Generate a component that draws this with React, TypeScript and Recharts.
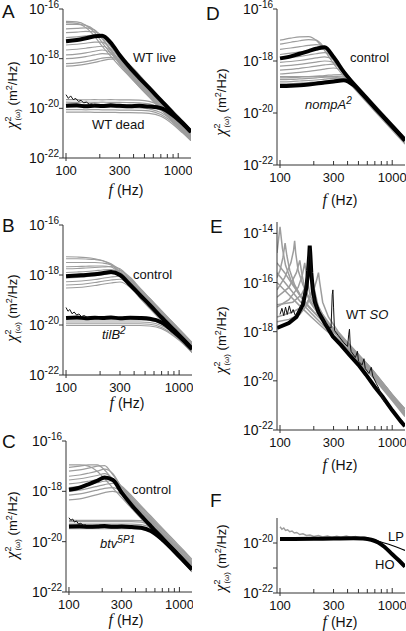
import React from 'react';
import { LineChart, Line, XAxis, YAxis } from 'recharts';

const SANS = '"Liberation Sans", Arial, sans-serif';
const SERIF = '"Liberation Serif", "Times New Roman", serif';
const GRAY = '#9d9d9d';
const AXIS = '#333';

// frequency grid (Hz) shared by panels A-D; values below are log10 of x^2 (m^2/Hz)
const F_GRID = [100, 125, 150, 180, 210, 250, 300, 370, 450, 550, 700, 900, 1100, 1300];
const X_TICKS = [100, 200, 300, 400, 500, 600, 700, 800, 900, 1000];
const X_DOMAIN = [94, 1300];

// A: WT live / WT dead
const aLiveGray = [
  [-16.5, -16.52, -16.65, -16.95, -17.35, -17.78, -18.19, -18.62, -19.03, -19.44, -19.94, -20.45, -20.86, -21.2],
  [-16.55, -16.58, -16.75, -17.1, -17.5, -17.9, -18.3, -18.73, -19.13, -19.54, -20.04, -20.55, -20.96, -21.3],
  [-16.62, -16.62, -16.66, -16.85, -17.2, -17.65, -18.08, -18.52, -18.93, -19.34, -19.84, -20.35, -20.76, -21.1],
  [-16.8, -16.78, -16.76, -16.85, -17.15, -17.65, -18.12, -18.57, -18.98, -19.39, -19.89, -20.4, -20.81, -21.15],
  [-16.95, -16.93, -16.9, -16.92, -17.08, -17.5, -17.97, -18.42, -18.83, -19.24, -19.74, -20.25, -20.66, -21.0],
  [-17.15, -17.12, -17.08, -17.05, -17.12, -17.5, -18.0, -18.47, -18.88, -19.29, -19.79, -20.3, -20.71, -21.05],
  [-17.45, -17.42, -17.38, -17.33, -17.33, -17.6, -18.15, -18.65, -19.08, -19.49, -19.99, -20.5, -20.91, -21.25],
  [-17.65, -17.62, -17.58, -17.53, -17.5, -17.68, -18.22, -18.7, -19.13, -19.54, -20.04, -20.55, -20.96, -21.3],
  [-17.85, -17.82, -17.77, -17.7, -17.65, -17.75, -18.15, -18.6, -19.03, -19.44, -19.94, -20.45, -20.86, -21.2],
  [-18.0, -17.97, -17.92, -17.85, -17.8, -17.82, -18.08, -18.5, -18.93, -19.34, -19.84, -20.35, -20.76, -21.1],
  [-18.2, -18.17, -18.12, -18.05, -17.98, -17.95, -18.05, -18.38, -18.78, -19.19, -19.69, -20.2, -20.61, -20.95],
  [-18.3, -18.27, -18.22, -18.15, -18.08, -18.02, -18.02, -18.25, -18.65, -19.09, -19.59, -20.1, -20.51, -20.85],
];
const aDeadGray = [
  [-19.65, -19.65, -19.66, -19.65, -19.66, -19.65, -19.66, -19.66, -19.67, -19.72, -19.9, -20.3, -20.68, -21.0],
  [-19.75, -19.76, -19.75, -19.76, -19.75, -19.76, -19.76, -19.77, -19.78, -19.82, -20.0, -20.38, -20.75, -21.08],
  [-19.85, -19.85, -19.86, -19.85, -19.86, -19.86, -19.87, -19.87, -19.88, -19.92, -20.08, -20.45, -20.82, -21.15],
  [-19.95, -19.95, -19.95, -19.96, -19.96, -19.96, -19.97, -19.97, -19.98, -20.02, -20.17, -20.52, -20.88, -21.2],
  [-20.05, -20.05, -20.06, -20.05, -20.06, -20.06, -20.07, -20.07, -20.08, -20.1, -20.25, -20.58, -20.93, -21.25],
  [-20.15, -20.15, -20.15, -20.16, -20.16, -20.16, -20.17, -20.17, -20.18, -20.2, -20.32, -20.65, -21.0, -21.3],
];
const aLive = [-17.3, -17.25, -17.18, -17.1, -17.08, -17.35, -17.85, -18.35, -18.77, -19.18, -19.68, -20.2, -20.6, -20.95];
const aDead = [-19.9, -19.88, -19.92, -19.89, -19.91, -19.88, -19.9, -19.92, -19.9, -19.93, -19.99, -20.28, -20.62, -20.95];
const aDeadNoiseF = [100, 105, 110, 116, 122, 129, 136, 144, 152, 161, 170, 180];
const aDeadNoise = [-19.45, -19.6, -19.5, -19.65, -19.6, -19.72, -19.68, -19.78, -19.75, -19.83, -19.82, -19.88];

// B: control / tilB2
const bCtrlGray = [
  [-17.27, -17.28, -17.3, -17.35, -17.42, -17.55, -17.8, -18.15, -18.53, -18.94, -19.44, -19.95, -20.36, -20.7],
  [-17.35, -17.35, -17.36, -17.38, -17.43, -17.58, -17.88, -18.25, -18.63, -19.04, -19.54, -20.05, -20.46, -20.8],
  [-17.5, -17.5, -17.5, -17.5, -17.52, -17.6, -17.9, -18.3, -18.68, -19.09, -19.59, -20.1, -20.51, -20.85],
  [-17.67, -17.66, -17.65, -17.64, -17.64, -17.68, -17.93, -18.34, -18.73, -19.14, -19.64, -20.15, -20.56, -20.9],
  [-17.75, -17.74, -17.72, -17.7, -17.68, -17.66, -17.75, -18.17, -18.58, -18.99, -19.49, -20.0, -20.41, -20.75],
  [-17.9, -17.88, -17.86, -17.83, -17.8, -17.78, -17.88, -18.27, -18.68, -19.09, -19.59, -20.1, -20.51, -20.85],
  [-18.0, -17.98, -17.95, -17.92, -17.88, -17.84, -17.82, -18.1, -18.53, -18.94, -19.44, -19.95, -20.36, -20.7],
  [-18.12, -18.1, -18.07, -18.03, -17.99, -17.95, -17.93, -18.2, -18.62, -19.04, -19.54, -20.05, -20.46, -20.8],
  [-18.27, -18.25, -18.22, -18.18, -18.13, -18.08, -18.05, -18.3, -18.72, -19.14, -19.64, -20.15, -20.56, -20.9],
  [-18.4, -18.38, -18.35, -18.3, -18.25, -18.2, -18.17, -18.4, -18.82, -19.24, -19.74, -20.25, -20.66, -21.0],
  [-18.52, -18.5, -18.47, -18.42, -18.37, -18.32, -18.28, -18.5, -18.92, -19.34, -19.84, -20.35, -20.76, -21.1],
];
const bMutGray = [
  [-19.8, -19.8, -19.8, -19.8, -19.8, -19.8, -19.8, -19.8, -19.8, -19.82, -19.95, -20.25, -20.57, -20.9],
  [-19.88, -19.88, -19.88, -19.88, -19.88, -19.88, -19.88, -19.88, -19.88, -19.9, -20.03, -20.33, -20.66, -21.0],
  [-19.95, -19.95, -19.95, -19.95, -19.95, -19.95, -19.95, -19.95, -19.95, -19.97, -20.1, -20.4, -20.72, -21.05],
  [-20.02, -20.02, -20.02, -20.02, -20.02, -20.02, -20.02, -20.02, -20.02, -20.04, -20.15, -20.45, -20.77, -21.1],
  [-19.7, -19.7, -19.7, -19.7, -19.7, -19.7, -19.7, -19.7, -19.7, -19.72, -19.85, -20.15, -20.47, -20.8],
];
const bCtrl = [-18.05, -18.02, -18.0, -17.97, -17.93, -17.88, -18.0, -18.4, -18.8, -19.2, -19.7, -20.2, -20.6, -20.95];
const bMut = [-19.72, -19.7, -19.73, -19.71, -19.72, -19.7, -19.73, -19.71, -19.72, -19.75, -19.9, -20.28, -20.63, -20.97];
const bMutNoiseF = [100, 104, 108, 113, 118, 124, 130, 137, 145, 154, 164];
const bMutNoise = [-19.3, -19.45, -19.38, -19.55, -19.48, -19.6, -19.56, -19.66, -19.62, -19.7, -19.68];

// C: control / btv5P1
const cCtrlGray = [
  [-16.95, -16.95, -17.0, -17.2, -17.5, -17.87, -18.25, -18.68, -19.08, -19.48, -19.96, -20.46, -20.86, -21.2],
  [-17.05, -17.0, -16.95, -16.95, -17.15, -17.55, -17.95, -18.38, -18.78, -19.18, -19.66, -20.16, -20.56, -20.9],
  [-17.2, -17.15, -17.08, -17.0, -16.98, -17.35, -17.82, -18.27, -18.68, -19.08, -19.56, -20.06, -20.46, -20.8],
  [-17.4, -17.35, -17.28, -17.2, -17.12, -17.3, -17.85, -18.32, -18.73, -19.13, -19.61, -20.11, -20.51, -20.85],
  [-17.55, -17.5, -17.44, -17.37, -17.3, -17.5, -17.95, -18.42, -18.83, -19.23, -19.71, -20.21, -20.61, -20.95],
  [-17.7, -17.66, -17.6, -17.53, -17.47, -17.6, -18.02, -18.48, -18.88, -19.28, -19.76, -20.26, -20.66, -21.0],
  [-17.85, -17.8, -17.74, -17.66, -17.6, -17.58, -17.8, -18.18, -18.58, -18.98, -19.46, -19.96, -20.36, -20.7],
  [-18.0, -17.95, -17.88, -17.8, -17.73, -17.68, -17.85, -18.23, -18.63, -19.03, -19.51, -20.01, -20.41, -20.75],
  [-18.15, -18.1, -18.03, -17.95, -17.88, -17.85, -18.0, -18.38, -18.78, -19.18, -19.66, -20.16, -20.56, -20.9],
  [-18.34, -18.3, -18.22, -18.13, -18.05, -18.0, -18.12, -18.52, -18.93, -19.33, -19.81, -20.31, -20.71, -21.05],
];
const cMutGray = [
  [-19.2, -19.2, -19.2, -19.2, -19.2, -19.2, -19.2, -19.2, -19.22, -19.38, -19.8, -20.27, -20.66, -21.0],
  [-19.3, -19.3, -19.3, -19.3, -19.3, -19.3, -19.3, -19.3, -19.32, -19.45, -19.85, -20.32, -20.71, -21.05],
  [-19.38, -19.38, -19.38, -19.38, -19.38, -19.38, -19.38, -19.38, -19.4, -19.52, -19.92, -20.41, -20.81, -21.15],
  [-19.15, -19.15, -19.15, -19.15, -19.15, -19.15, -19.15, -19.15, -19.16, -19.25, -19.68, -20.17, -20.56, -20.9],
  [-19.48, -19.48, -19.48, -19.48, -19.48, -19.48, -19.48, -19.48, -19.5, -19.6, -19.98, -20.46, -20.86, -21.2],
];
const cCtrl = [-17.94, -17.85, -17.72, -17.58, -17.45, -17.55, -18.05, -18.55, -18.97, -19.38, -19.86, -20.36, -20.76, -21.1];
const cMut = [-19.4, -19.39, -19.41, -19.4, -19.38, -19.41, -19.4, -19.42, -19.45, -19.58, -19.92, -20.38, -20.77, -21.1];
const cMutNoiseF = [100, 104, 108, 112, 117, 122, 128, 135, 142];
const cMutNoise = [-19.05, -19.15, -19.1, -19.22, -19.18, -19.3, -19.27, -19.35, -19.33];

// D: control / nompA2
const dCtrlGray = [
  [-17.2, -17.12, -17.07, -17.06, -17.2, -17.6, -18.1, -18.58, -19.01, -19.44, -19.94, -20.45, -20.86, -21.2],
  [-17.35, -17.28, -17.22, -17.18, -17.2, -17.5, -17.98, -18.5, -18.92, -19.34, -19.84, -20.35, -20.76, -21.1],
  [-17.55, -17.5, -17.45, -17.4, -17.37, -17.45, -17.9, -18.4, -18.82, -19.24, -19.74, -20.25, -20.66, -21.0],
  [-17.75, -17.7, -17.65, -17.6, -17.55, -17.55, -17.88, -18.43, -18.86, -19.29, -19.79, -20.3, -20.71, -21.05],
  [-17.9, -17.86, -17.82, -17.77, -17.72, -17.68, -17.88, -18.45, -18.93, -19.39, -19.89, -20.4, -20.81, -21.15],
  [-18.05, -18.02, -17.98, -17.93, -17.88, -17.84, -17.95, -18.4, -18.82, -19.24, -19.74, -20.25, -20.66, -21.0],
  [-18.2, -18.17, -18.13, -18.08, -18.04, -18.0, -18.05, -18.45, -18.9, -19.34, -19.84, -20.35, -20.76, -21.1],
  [-18.35, -18.32, -18.28, -18.24, -18.2, -18.15, -18.12, -18.38, -18.79, -19.19, -19.69, -20.2, -20.61, -20.95],
  [-18.5, -18.47, -18.44, -18.4, -18.36, -18.31, -18.27, -18.42, -18.85, -19.27, -19.77, -20.28, -20.69, -21.03],
];
const dMutGray = [
  [-18.65, -18.64, -18.62, -18.6, -18.58, -18.56, -18.53, -18.52, -18.8, -19.19, -19.69, -20.2, -20.61, -20.95],
  [-18.72, -18.71, -18.69, -18.67, -18.65, -18.62, -18.6, -18.58, -18.85, -19.24, -19.74, -20.25, -20.66, -21.0],
  [-18.8, -18.79, -18.77, -18.75, -18.73, -18.7, -18.67, -18.65, -18.95, -19.34, -19.84, -20.35, -20.76, -21.1],
  [-18.88, -18.87, -18.85, -18.83, -18.8, -18.78, -18.75, -18.72, -18.9, -19.29, -19.79, -20.3, -20.71, -21.05],
  [-18.6, -18.6, -18.6, -18.6, -18.6, -18.6, -18.62, -18.7, -19.0, -19.39, -19.89, -20.4, -20.81, -21.15],
];
const dCtrl = [-17.9, -17.82, -17.72, -17.62, -17.53, -17.47, -17.85, -18.42, -18.87, -19.29, -19.79, -20.3, -20.71, -21.05];
const dMut = [-18.96, -18.95, -18.93, -18.9, -18.87, -18.83, -18.79, -18.74, -18.92, -19.29, -19.79, -20.3, -20.71, -21.05];

// E: WT spontaneous oscillations
const eGrayF = [
  [94, 100, 105, 112, 125, 150, 180, 220, 300, 420, 600, 850, 1300],
  [94, 100, 106, 111, 115, 122, 135, 160, 200, 260, 350, 500, 700, 1000, 1300],
  [94, 110, 125, 132, 135, 138, 145, 160, 190, 240, 320, 450, 650, 900, 1300],
  [94, 120, 145, 158, 166, 172, 185, 210, 260, 350, 500, 700, 1000, 1300],
  [94, 130, 170, 200, 212, 220, 226, 240, 270, 330, 450, 650, 900, 1300],
  [94, 110, 130, 160, 200, 260, 350, 500, 700, 1000, 1300],
  [94, 120, 150, 190, 250, 350, 500, 700, 1000, 1300],
  [94, 120, 150, 190, 250, 350, 500, 700, 1000, 1300],
  [94, 120, 140, 150, 156, 165, 185, 230, 300, 420, 600, 850, 1300],
  [94, 120, 150, 175, 190, 198, 205, 220, 260, 350, 500, 700, 1000, 1300],
  [94, 130, 155, 175, 183, 190, 205, 240, 300, 420, 600, 850, 1300],
];
const eGrayV = [
  [-14.8, -13.73, -14.6, -15.3, -15.9, -16.5, -17.0, -17.4, -18.0, -18.7, -19.5, -20.3, -21.25],
  [-15.8, -15.5, -15.0, -14.4, -14.9, -15.5, -16.1, -16.7, -17.2, -17.7, -18.25, -19.0, -19.75, -20.6, -21.15],
  [-16.3, -15.8, -15.2, -14.7, -14.3, -14.8, -15.5, -16.1, -16.8, -17.4, -18.0, -18.7, -19.5, -20.3, -21.25],
  [-17.0, -16.7, -16.2, -15.7, -15.2, -15.7, -16.5, -17.1, -17.6, -18.2, -18.95, -19.7, -20.55, -21.15],
  [-17.4, -17.2, -16.9, -16.3, -15.9, -15.6, -16.0, -16.8, -17.4, -18.0, -18.7, -19.5, -20.3, -21.3],
  [-15.2, -15.6, -16.1, -16.7, -17.2, -17.75, -18.3, -19.05, -19.8, -20.65, -21.3],
  [-15.6, -16.2, -16.75, -17.25, -17.8, -18.4, -19.15, -19.9, -20.75, -21.4],
  [-16.0, -16.5, -16.95, -17.4, -17.9, -18.45, -19.2, -19.95, -20.8, -21.45],
  [-16.6, -16.2, -15.6, -15.1, -15.6, -16.2, -16.8, -17.4, -17.95, -18.6, -19.4, -20.2, -21.3],
  [-17.6, -17.5, -17.3, -16.9, -16.4, -16.0, -16.4, -17.0, -17.6, -18.3, -19.1, -19.85, -20.7, -21.35],
  [-16.9, -16.8, -16.5, -16.0, -15.6, -16.0, -16.7, -17.3, -17.9, -18.6, -19.4, -20.2, -21.3],
];
const eBlackF = [94, 100, 120, 140, 160, 172, 178, 182, 184, 186, 190, 196, 205, 220, 250, 296, 350, 416, 500, 584, 700, 821, 1000, 1194, 1300];
const eBlack = [-17.85, -17.8, -17.65, -17.4, -16.9, -16.2, -15.5, -14.9, -14.5, -14.8, -15.6, -16.3, -16.8, -17.2, -17.65, -18.2, -18.55, -18.95, -19.35, -19.75, -20.25, -20.65, -21.2, -21.65, -21.85];
const eThinF = [100, 104, 108, 112, 116, 121, 126, 131, 137, 145, 155, 165, 175, 181, 184, 187, 192, 200, 215, 240, 270, 285, 292, 296, 300, 306, 330, 370, 400, 410, 416, 422, 430, 470, 490, 500, 540, 560, 575, 620, 650, 670, 720, 760, 800, 850];
const eThin = [-17.3, -17.05, -17.35, -17.0, -17.3, -16.95, -17.25, -17.1, -17.35, -17.2, -16.9, -16.4, -15.6, -14.9, -14.6, -15.0, -15.9, -16.6, -17.1, -17.5, -17.8, -17.85, -16.5, -16.3, -17.0, -17.95, -18.15, -18.45, -18.6, -18.1, -17.9, -18.5, -18.8, -19.05, -18.8, -19.2, -19.35, -19.1, -19.5, -19.7, -19.45, -19.8, -20.1, -20.3, -20.6, -20.85];

// F: LP / HO fits
const fNoiseF = [100, 104, 108, 112, 117, 122, 128, 134, 141, 150, 160, 172, 185, 200, 220, 240, 265, 290, 320, 350, 390, 430, 470, 520, 570, 620, 680, 740, 800];
const fNoise = [-19.35, -19.45, -19.4, -19.5, -19.47, -19.55, -19.52, -19.6, -19.58, -19.66, -19.63, -19.7, -19.68, -19.74, -19.7, -19.76, -19.72, -19.78, -19.73, -19.77, -19.72, -19.78, -19.74, -19.79, -19.76, -19.82, -19.85, -19.92, -19.98];
const fFitF = [100, 200, 300, 450, 550, 650, 750, 850, 1000, 1150, 1300];
const fHO = [-19.84, -19.83, -19.82, -19.81, -19.82, -19.87, -19.98, -20.15, -20.45, -20.7, -20.95];
const fLP = [-19.84, -19.83, -19.82, -19.81, -19.82, -19.86, -19.93, -20.0, -20.1, -20.2, -20.3];

const pts = (fs: number[], es: number[]) => fs.map((f, i) => ({ f, v: Math.pow(10, es[i]) }));

type Series = { f: number[]; e: number[]; color: string; w: number; curve?: 'monotone' | 'linear' };

const grays = (rows: number[][]): Series[] => rows.map((e) => ({ f: F_GRID, e, color: GRAY, w: 1.2 }));
const thick = (e: number[], f = F_GRID): Series => ({ f, e, color: '#000', w: 4 });
const thin = (f: number[], e: number[], color = '#111', w = 1): Series => ({ f, e, color, w, curve: 'linear' });

function XTick(props: any) {
  const { x, y, payload } = props;
  const v = payload.value;
  const major = v === 100 || v === 1000;
  const label = major || v === 300;
  return (
    <g>
      <line x1={x} x2={x} y1={y + (v === 100 ? 3 : 0)} y2={y - (major ? 5 : 4)} stroke={AXIS} />
      {label && (
        <text x={x} y={y + 17} textAnchor="middle" fontSize={13} fontFamily={SANS} fill="#111">
          {v}
        </text>
      )}
    </g>
  );
}

function YTick(props: any) {
  const { x, y, payload, labeled } = props;
  const exp = Math.round(Math.log10(payload.value));
  return (
    <g>
      <line x1={x} x2={x - 4} y1={y} y2={y} stroke={AXIS} />
      {labeled.includes(exp) && (
        <text x={x - 4} y={y + 5} textAnchor="end" fontSize={14} fontFamily={SANS} fill="#111">
          10<tspan dy={-6} fontSize={10}>{String(exp)}</tspan>
        </text>
      )}
    </g>
  );
}

function Panel(props: {
  left: number; top: number; width: number; height: number;
  yDomain: number[]; yTicks: number[]; yLabeled: number[]; series: Series[];
}) {
  const { left, top, width, height, yDomain, yTicks, yLabeled, series } = props;
  const YW = 46, T = 14, R = 1, XH = 26;
  return (
    <div style={{ position: 'absolute', left: left - YW, top: top - T }}>
      <LineChart width={YW + width + R} height={T + height + XH} margin={{ top: T, right: R, bottom: 0, left: 0 }}>
        <XAxis xAxisId="b" dataKey="f" type="number" scale="log" domain={X_DOMAIN} allowDataOverflow
          ticks={X_TICKS} interval={0} tickSize={0} tickMargin={0} tickLine={false}
          tick={(p: any) => <XTick {...p} />} height={XH} stroke={AXIS} />
        <XAxis xAxisId="t" orientation="top" dataKey="f" type="number" scale="log" domain={X_DOMAIN}
          allowDataOverflow tick={false} tickLine={false} height={0} stroke={AXIS} />
        <YAxis yAxisId="l" type="number" scale="log" domain={yDomain} allowDataOverflow ticks={yTicks}
          interval={0} tickSize={0} tickMargin={0} tickLine={false}
          tick={(p: any) => <YTick {...p} labeled={yLabeled} />} width={YW} stroke={AXIS} />
        <YAxis yAxisId="r" orientation="right" type="number" scale="log" domain={yDomain}
          allowDataOverflow tick={false} tickLine={false} width={0} stroke={AXIS} />
        {series.map((s, i) => (
          <Line key={i} xAxisId="b" yAxisId="l" data={pts(s.f, s.e)} dataKey="v" type={s.curve ?? 'monotone'}
            stroke={s.color} strokeWidth={s.w} dot={false} activeDot={false} isAnimationActive={false} />
        ))}
      </LineChart>
    </div>
  );
}

function YTitle({ x, y }: { x: number; y: number }) {
  return (
    <text transform={`translate(${x},${y}) rotate(-90)`} textAnchor="middle" fontFamily={SANS} fontSize={13} fill="#111">
      <tspan fontFamily={SERIF} fontStyle="italic" fontSize={16}>χ</tspan>
      <tspan fontSize={9} dy={-6}>2</tspan>
      <tspan fontSize={8} dx={-4} dy={9}>(ω)</tspan>
      <tspan dy={-3}> (m</tspan>
      <tspan fontSize={9} dy={-5}>2</tspan>
      <tspan dy={5}>/Hz)</tspan>
    </text>
  );
}

function XTitle({ x, y }: { x: number; y: number }) {
  return (
    <text x={x} y={y} textAnchor="middle" fontFamily={SANS} fontSize={14} fill="#111">
      <tspan fontFamily={SERIF} fontStyle="italic" fontSize={16}>f</tspan> (Hz)
    </text>
  );
}

const Y16 = [1e-22, 1e-20, 1e-18, 1e-16];
const Y14 = [1e-22, 1e-20, 1e-18, 1e-16, 1e-14];
const Y20 = [1e-22, 1e-21, 1e-20];

export default function App() {
  const t = { fontFamily: SANS, fontSize: 13, fill: '#111' };
  const letter = { fontFamily: SANS, fontSize: 19, fill: '#111' };
  return (
    <div style={{ position: 'absolute', left: 0, top: 0, width: 406, height: 631, overflow: 'hidden', background: '#fff' }}>
      <Panel left={63} top={9} width={128} height={149} yDomain={[1e-22, 1e-16]} yTicks={Y16} yLabeled={[-22, -20, -18, -16]}
        series={[...grays(aLiveGray), ...grays(aDeadGray), thick(aLive), thick(aDead), thin(aDeadNoiseF, aDeadNoise)]} />
      <Panel left={63} top={225} width={129} height={150} yDomain={[1e-22, 1e-16]} yTicks={Y16} yLabeled={[-22, -20, -18, -16]}
        series={[...grays(bCtrlGray), ...grays(bMutGray), thick(bCtrl), thick(bMut), thin(bMutNoiseF, bMutNoise)]} />
      <Panel left={66} top={441} width={126} height={151} yDomain={[1e-22, 1e-16]} yTicks={Y16} yLabeled={[-22, -20, -18, -16]}
        series={[...grays(cCtrlGray), ...grays(cMutGray), thick(cCtrl), thick(cMut), thin(cMutNoiseF, cMutNoise)]} />
      <Panel left={277} top={9} width={128} height={156} yDomain={[1e-22, 1e-16]} yTicks={Y16} yLabeled={[-22, -20, -18, -16]}
        series={[...grays(dCtrlGray), ...grays(dMutGray), thick(dCtrl), thick(dMut)]} />
      <Panel left={277} top={222} width={128} height={208} yDomain={[1e-22, 2.9e-14]} yTicks={Y14} yLabeled={[-22, -20, -18, -16, -14]}
        series={[
          ...eGrayF.map((f, i) => ({ f, e: eGrayV[i], color: GRAY, w: 1.5, curve: 'linear' as const })),
          { f: eBlackF, e: eBlack, color: '#000', w: 4, curve: 'linear' },
          thin(eThinF, eThin),
        ]} />
      <Panel left={277} top={518} width={128} height={75} yDomain={[1e-22, 1e-19]} yTicks={Y20} yLabeled={[-22, -20]}
        series={[thin(fNoiseF, fNoise, GRAY, 1.4), thick(fHO, fFitF), { f: fFitF, e: fLP, color: '#000', w: 1.2 }]} />

      <svg width={406} height={631} style={{ position: 'absolute', left: 0, top: 0, pointerEvents: 'none' }}>
        <text x={2} y={18} {...letter}>A</text>
        <text x={2} y={232} {...letter}>B</text>
        <text x={2} y={448} {...letter}>C</text>
        <text x={206} y={20} {...letter}>D</text>
        <text x={210} y={233} {...letter}>E</text>
        <text x={210} y={507} {...letter}>F</text>

        <YTitle x={17} y={95} />
        <YTitle x={17} y={308} />
        <YTitle x={17} y={525} />
        <YTitle x={226} y={102} />
        <YTitle x={226} y={340} />
        <YTitle x={226} y={558} />

        <XTitle x={126} y={195} />
        <XTitle x={127} y={408} />
        <XTitle x={126} y={625} />
        <XTitle x={340} y={205} />
        <XTitle x={340} y={470} />
        <XTitle x={340} y={627} />

        <text x={133} y={62} {...t}>WT live</text>
        <text x={92} y={129} {...t}>WT dead</text>
        <text x={133} y={279} {...t}>control</text>
        <text x={102} y={339} {...t} fontStyle="italic">tilB<tspan dy={-5} fontSize={10}>2</tspan></text>
        <text x={132} y={494} {...t}>control</text>
        <text x={100} y={548} {...t} fontStyle="italic">btv<tspan dy={-5} fontSize={10}>5P1</tspan></text>
        <text x={350} y={62} {...t}>control</text>
        <text x={305} y={109} {...t} fontStyle="italic">nompA<tspan dy={-5} fontSize={10}>2</tspan></text>
        <text x={346} y={319} {...t}>WT <tspan fontStyle="italic">SO</tspan></text>
        <text x={388} y={541} {...t}>LP</text>
        <text x={375} y={569} {...t}>HO</text>
      </svg>
    </div>
  );
}
